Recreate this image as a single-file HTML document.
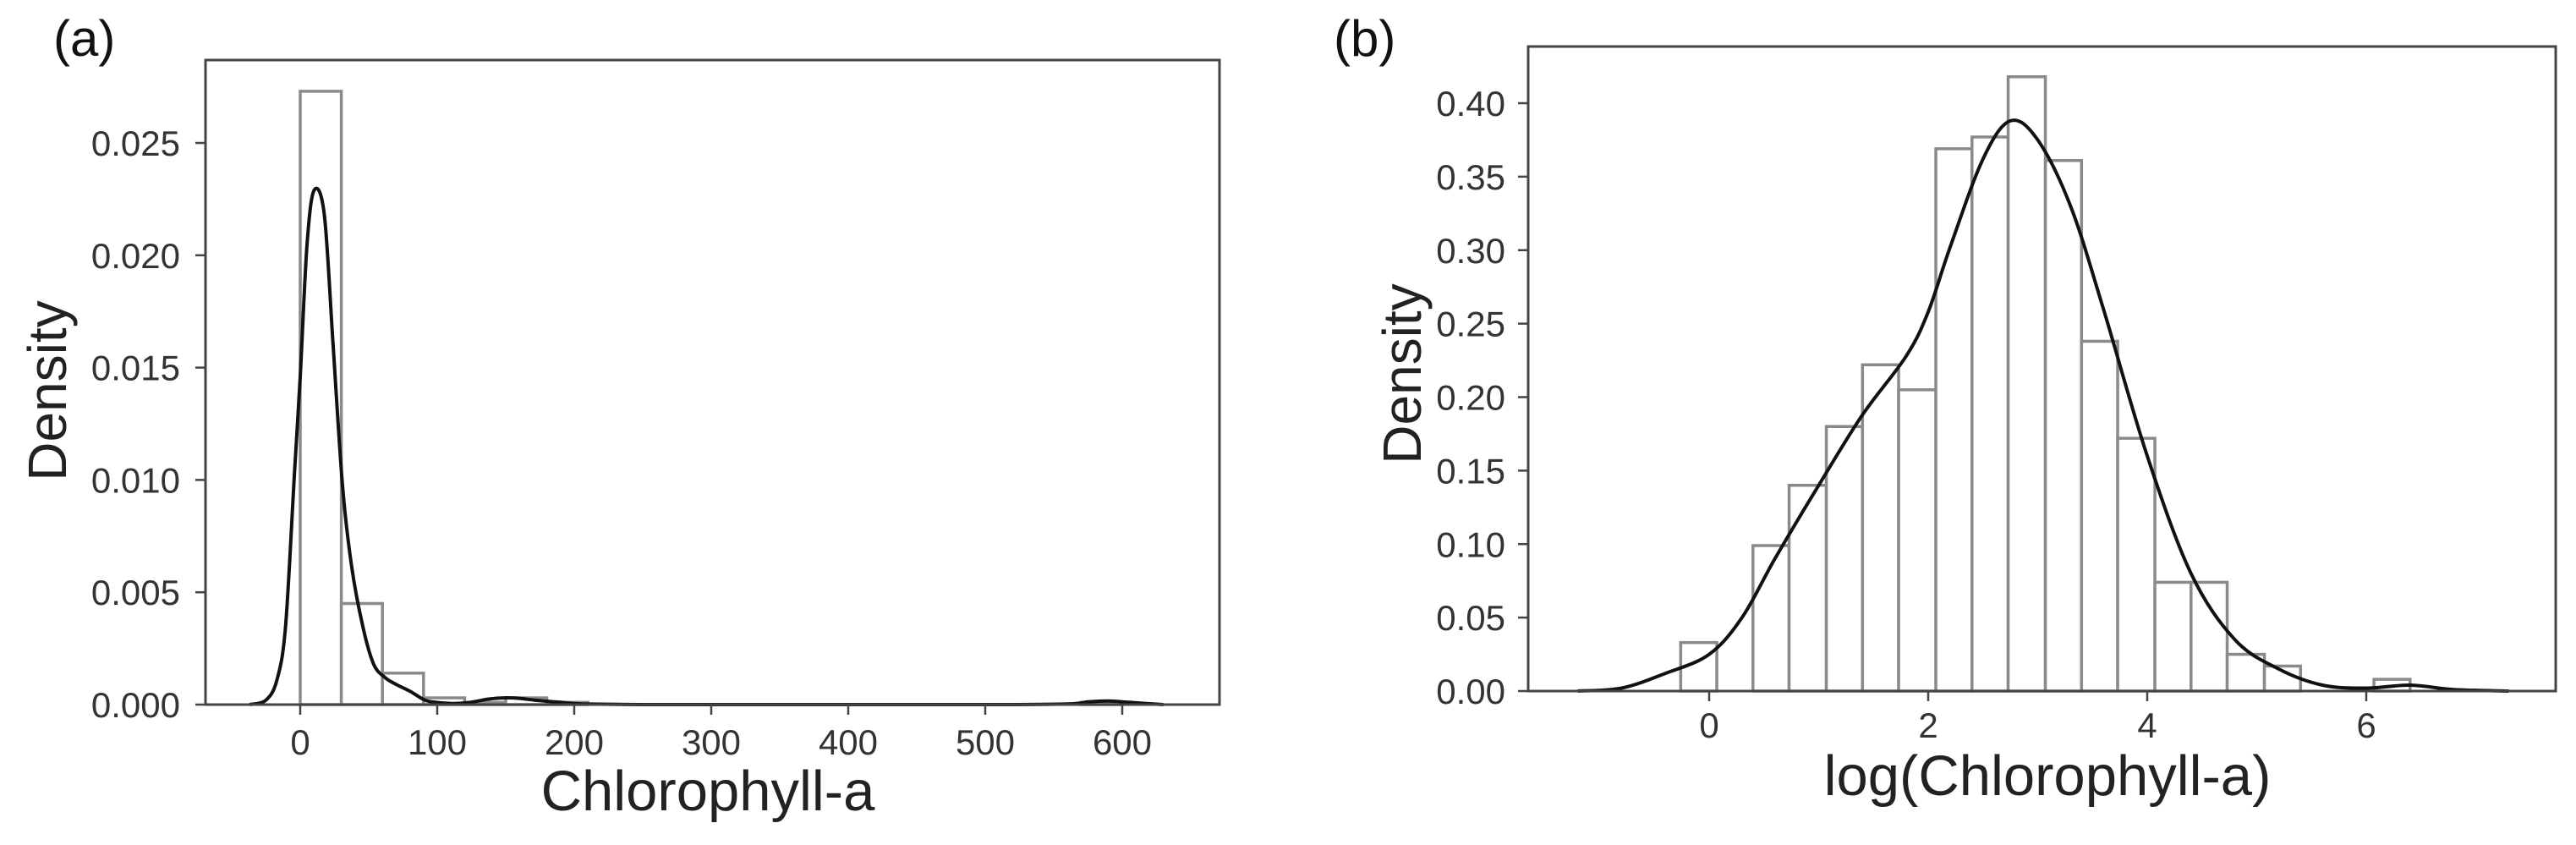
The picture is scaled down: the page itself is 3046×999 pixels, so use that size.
<!DOCTYPE html>
<html><head><meta charset="utf-8"><style>
html,body{margin:0;padding:0;background:#fff;overflow:hidden;}
svg{display:block;font-family:"Liberation Sans","DejaVu Sans",sans-serif;}
</style></head><body>
<svg id="fig" width="3046" height="999" viewBox="0 0 3046 999"></svg>
<script>
// ---- Panel (a) data ----
const aBinEdges = [0,30,60,90,120,150,180,210];
const aBinHeights = [0.0273,0.0045,0.0014,0.0003,0.0001,0.0003,0.0001];
const aTailEdges = [570,600];
const aTailHeights = [0.0001];
const aKdeX = [-37,-25,-17,-10.7,-4.2,0,5,10.2,17.6,24,30.8,37.4,45.6,53.6,62,70,80,91,99,111,124,138,150,160,171,190,206,250,300,400,500,560,575,590,605,630];
const aKdeY = [0,0.0002,0.0011,0.0035,0.0103,0.0146,0.0205,0.0229,0.0218,0.016,0.0098,0.0062,0.0035,0.0018,0.0012,0.0009,0.0006,0.0002,0.0001,0.00005,0.0001,0.00025,0.0003,0.00028,0.0002,0.0001,0.00003,0,0,0,0,0.00003,0.00012,0.00016,0.0001,0];
const aYTicks = [0,0.005,0.010,0.015,0.020,0.025];
const aYLabels = ["0.000","0.005","0.010","0.015","0.020","0.025"];
const aXTicks = [0,100,200,300,400,500,600];
// ---- Panel (b) data ----
const bBinEdges = [-0.26,0.07,0.40,0.73,1.07,1.40,1.73,2.07,2.40,2.73,3.07,3.40,3.73,4.07,4.40,4.73,5.07,5.40,5.73,6.07,6.40];
const bBinHeights = [0.033,0,0.099,0.14,0.18,0.222,0.205,0.369,0.377,0.418,0.361,0.238,0.172,0.074,0.074,0.025,0.017,0,0,0.008];
const bKdeX = [-1.2,-0.8,-0.4,0,0.3,0.6,1.0,1.4,1.8,2.0,2.2,2.5,2.75,3.0,3.3,3.6,4.0,4.4,4.8,5.2,5.6,6.0,6.4,6.8,7.3];
const bKdeY = [0,0.002,0.012,0.025,0.05,0.09,0.14,0.188,0.228,0.258,0.302,0.362,0.388,0.375,0.33,0.26,0.16,0.08,0.035,0.015,0.004,0.002,0.004,0.001,0];
const bYTicks = [0,0.05,0.10,0.15,0.20,0.25,0.30,0.35,0.40];
const bYLabels = ["0.00","0.05","0.10","0.15","0.20","0.25","0.30","0.35","0.40"];
const bXTicks = [0,2,4,6];

const NS="http://www.w3.org/2000/svg";
const svg=document.getElementById('fig');
function mk(tag,attrs,parent){const e=document.createElementNS(NS,tag);for(const k in attrs)e.setAttribute(k,attrs[k]);(parent||svg).appendChild(e);return e;}

function smoothPath(pts){
  let d='M'+pts[0][0].toFixed(1)+','+pts[0][1].toFixed(1);
  for(let i=0;i<pts.length-1;i++){
    const p0=pts[i-1]||pts[i],p1=pts[i],p2=pts[i+1],p3=pts[i+2]||p2;
    const c1=[p1[0]+(p2[0]-p0[0])/6,p1[1]+(p2[1]-p0[1])/6];
    const c2=[p2[0]-(p3[0]-p1[0])/6,p2[1]-(p3[1]-p1[1])/6];
    d+='C'+c1[0].toFixed(1)+','+c1[1].toFixed(1)+' '+c2[0].toFixed(1)+','+c2[1].toFixed(1)+' '+p2[0].toFixed(1)+','+p2[1].toFixed(1);
  }
  return d;
}

function panel(cfg){
  const g=mk('g',{});
  
  
  const sx=v=>cfg.x0px+(v-cfg.x0v)*cfg.xs;
  const sy=v=>cfg.y0px-v*cfg.ys;
  const drawBars=(edges,heights,nm)=>{
    for(let i=0;i<heights.length;i++){
      if(heights[i]<=0)continue;
      const x1=sx(edges[i]),x2=sx(edges[i+1]),y=sy(heights[i]);
      const r=mk('rect',{x:x1,y:y,width:x2-x1,height:cfg.y0px-y,fill:'#fff',stroke:'#8a8a8a','stroke-width':3.5},g);
      
      
    }
  };
  drawBars(cfg.edges,cfg.heights,'histogram-bar');
  if(cfg.tailEdges)drawBars(cfg.tailEdges,cfg.tailHeights,'histogram-tail-bar');
  const pts=cfg.kx.map((v,i)=>[sx(v),sy(cfg.ky[i])]);
  const p=mk('path',{d:smoothPath(pts),fill:'none',stroke:'#111','stroke-width':4,'stroke-linejoin':'round'},g);
  
  
  const f=mk('rect',{x:cfg.L,y:cfg.T,width:cfg.R-cfg.L,height:cfg.B-cfg.T,fill:'none',stroke:'#444','stroke-width':3},g);
  
  
  cfg.yt.forEach((v,i)=>{
    const y=sy(v);
    mk('line',{x1:cfg.L-12,x2:cfg.L,y1:y,y2:y,stroke:'#444','stroke-width':2.5},g);
    const t=mk('text',{x:cfg.L-cfg.lgap,y:y+15,'text-anchor':'end','font-size':42,fill:'#333'},g);
    t.textContent=cfg.yl[i];
    
    
  });
  cfg.xt.forEach(v=>{
    const x=sx(v);
    mk('line',{x1:x,x2:x,y1:cfg.B,y2:cfg.B+12,stroke:'#444','stroke-width':2.5},g);
    const t=mk('text',{x:x,y:cfg.xtly,'text-anchor':'middle','font-size':42,fill:'#333'},g);
    t.textContent=String(v);
    
    
  });
  const xt=mk('text',{x:cfg.xlx,y:cfg.xly,'text-anchor':'middle','font-size':67,fill:'#222'},g);
  xt.textContent=cfg.xlabel;
  
  
  const yt=mk('text',{x:0,y:0,'text-anchor':'middle','font-size':64,fill:'#222',transform:`translate(${cfg.ylx},${cfg.yly}) rotate(-90)`},g);
  yt.textContent='Density';
  
  
  const pl=mk('text',{x:cfg.plx,y:cfg.ply,'font-size':60,fill:'#111'},g);
  pl.textContent=cfg.plabel;
  
  
}

panel({name:'panel-a',L:243,R:1442,T:71,B:833,x0px:355,x0v:0,xs:1.62,y0px:833,ys:(833-169)/0.025,lgap:30,
  edges:aBinEdges,heights:aBinHeights,tailEdges:aTailEdges,tailHeights:aTailHeights,kx:aKdeX,ky:aKdeY,
  yt:aYTicks,yl:aYLabels,xt:aXTicks,xtly:892,xlabel:'Chlorophyll-a',xlx:837,xly:958,ylx:78,yly:462,plabel:'(a)',plx:63,ply:66});
panel({name:'panel-b',L:1807,R:3022,T:55,B:817,x0px:2021,x0v:0,xs:129.5,y0px:817,ys:(817-122)/0.40,lgap:27,
  edges:bBinEdges,heights:bBinHeights,kx:bKdeX,ky:bKdeY,
  yt:bYTicks,yl:bYLabels,xt:bXTicks,xtly:872,xlabel:'log(Chlorophyll-a)',xlx:2421,xly:940,ylx:1680,yly:442,plabel:'(b)',plx:1577,ply:66});
</script>
</body></html>
